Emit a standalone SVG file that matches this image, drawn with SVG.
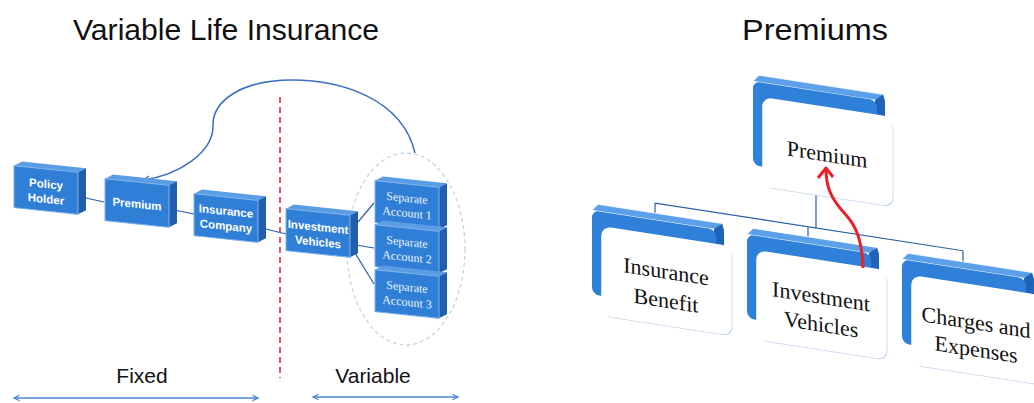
<svg xmlns="http://www.w3.org/2000/svg" xmlns:xlink="http://www.w3.org/1999/xlink" width="1034" height="403" viewBox="0 0 1034 403">
<style>
.title{font-family:"Liberation Sans",Arial,sans-serif;font-size:30px;fill:#111;text-anchor:middle}
.lbl{font-family:"Liberation Sans",Arial,sans-serif;font-size:21px;fill:#111;text-anchor:middle}
.sm{font-family:"Liberation Sans",Arial,sans-serif;font-size:11.5px;font-weight:bold;fill:#fff;text-anchor:middle}
.sa{font-family:"Liberation Serif",serif;font-size:12px;fill:#eef5fd;text-anchor:middle}
.big{font-family:"Liberation Serif","Times New Roman",serif;font-size:22px;fill:#111;text-anchor:middle}
.con{fill:none;stroke:#2a5fa8;stroke-width:1.2}
</style>
<defs>
<g id="small">
<polygon points="0,0 8,-5 72,-5 64,0" fill="#5b9de4"/>
<polygon points="64,0 72,-5 72,37 64,42" fill="#1f5fae"/>
<rect x="0" y="0" width="64" height="42" fill="#2f7fd6" stroke="#7fb2ec" stroke-width="1"/>
</g>
<g id="big">
<polygon points="-10,-15 -4,-22 120,-22 114,-15" fill="#5ba0e9" stroke="#ffffff" stroke-width="0.8"/>
<polygon points="112,-15 120,-22 122,-16 122,20 112,20" fill="#1f64ba"/>
<rect x="-10" y="-15" width="124" height="84" rx="7" fill="#2f80d8"/>
<rect x="1.5" y="1.5" width="129" height="88" rx="9" fill="#c3d5ec"/>
<rect x="0" y="0" width="129" height="88" rx="9" fill="#ffffff" stroke="#ffffff" stroke-width="1.5"/>
</g>
<marker id="ah" viewBox="0 0 10 10" refX="9" refY="5" markerWidth="8" markerHeight="8" orient="auto-start-reverse" markerUnits="userSpaceOnUse">
<path d="M1,1 L9,5 L1,9" fill="none" stroke="#3a6fc4" stroke-width="1.6"/>
</marker>
<marker id="ah2" viewBox="0 0 10 10" refX="9" refY="5" markerWidth="7" markerHeight="7" orient="auto-start-reverse" markerUnits="userSpaceOnUse">
<path d="M1,1 L9,5 L1,9" fill="none" stroke="#4a86d6" stroke-width="1.6"/>
</marker>
</defs>
<rect width="1034" height="403" fill="#ffffff"/>
<text class="title" x="226" y="40" textLength="306" lengthAdjust="spacingAndGlyphs">Variable Life Insurance</text>
<text class="title" x="815" y="40" textLength="146" lengthAdjust="spacingAndGlyphs">Premiums</text>

<line x1="280" y1="97" x2="280" y2="378" stroke="#e8425a" stroke-width="1.8" stroke-dasharray="6,4"/>
<ellipse cx="406" cy="249" rx="59" ry="96" fill="none" stroke="#c8d4e4" stroke-width="1.3" stroke-dasharray="4,3"/>

<g id="connectors">
<path class="con" d="M86,198 L104,202"/>
<path class="con" d="M174,210 L194,214"/>
<path class="con" d="M266,229 L286,234"/>
<path class="con" d="M358,222 L374,203"/>
<path class="con" d="M356,245 L374,248"/>
<path class="con" d="M355,253 L374,284"/>
<path d="M415,153 C402,98 340,80 292,80 C240,80 212,102 213,126 C213,152 180,175 143,180" fill="none" stroke="#3a6fc4" stroke-width="1.5" marker-end="url(#ah)"/>
<g transform="translate(816,0) skewY(8.8) translate(-816,0)">
<path class="con" d="M816,195 L816,228 M655,228 L963,228 M655,228 L655,238 M808,228 L808,238 M963,228 L963,239"/>
</g>
<line x1="14" y1="398" x2="258" y2="398" stroke="#4a86d6" stroke-width="1.5" marker-start="url(#ah2)" marker-end="url(#ah2)"/>
<line x1="313" y1="397" x2="458" y2="397" stroke="#4a86d6" stroke-width="1.5" marker-start="url(#ah2)" marker-end="url(#ah2)"/>
</g>

<g id="policy-holder" transform="translate(46,190) skewY(6) translate(-46,-190)">
<use xlink:href="#small" x="14" y="169"/>
<text class="sm" x="46" y="188">Policy</text>
<text class="sm" x="46" y="203">Holder</text>
</g>
<g id="premium-small" transform="translate(137,203) skewY(6) translate(-137,-203)">
<use xlink:href="#small" x="105" y="182"/>
<text class="sm" x="137" y="208">Premium</text>
</g>
<g id="insurance-company" transform="translate(226,218) skewY(6) translate(-226,-218)">
<use xlink:href="#small" x="194" y="197"/>
<text class="sm" x="226" y="215">Insurance</text>
<text class="sm" x="226" y="230">Company</text>
</g>
<g id="investment-vehicles-small" transform="translate(318,233) skewY(6) translate(-318,-233)">
<use xlink:href="#small" x="286" y="212"/>
<text class="sm" x="318" y="231">Investment</text>
<text class="sm" x="318" y="246">Vehicles</text>
</g>
<g id="separate-account-1" transform="translate(407,205) skewY(6) translate(-407,-205)">
<use xlink:href="#small" x="375" y="184"/>
<text class="sa" x="407" y="202">Separate</text>
<text class="sa" x="407" y="217">Account 1</text>
</g>
<g id="separate-account-2" transform="translate(407,249) skewY(6) translate(-407,-249)">
<use xlink:href="#small" x="375" y="228"/>
<text class="sa" x="407" y="246">Separate</text>
<text class="sa" x="407" y="261">Account 2</text>
</g>
<g id="separate-account-3" transform="translate(407,294) skewY(6) translate(-407,-294)">
<use xlink:href="#small" x="375" y="273"/>
<text class="sa" x="407" y="291">Separate</text>
<text class="sa" x="407" y="306">Account 3</text>
</g>

<g transform="translate(816,0) skewY(8.8) translate(-816,0)">
<g id="premium">
<use xlink:href="#big" x="763" y="106"/>
<text class="big" x="827" y="160">Premium</text>
</g>
<g id="insurance-benefit">
<use xlink:href="#big" x="602" y="260"/>
<text class="big" x="666" y="302">Insurance</text>
<text class="big" x="666" y="331">Benefit</text>
</g>
<g id="investment-vehicles">
<use xlink:href="#big" x="757" y="260"/>
<text class="big" x="821" y="303">Investment</text>
<text class="big" x="821" y="331">Vehicles</text>
</g>
<g id="charges-expenses">
<use xlink:href="#big" x="912" y="261"/>
<text class="big" x="976" y="305">Charges and</text>
<text class="big" x="976" y="332">Expenses</text>
</g>
</g>

<path d="M863,268 C862,240 856,226 846,215 C834,202 826,190 826,170" fill="none" stroke="#e8202a" stroke-width="3"/>
<path d="M818,178 L826,168 L833,177" fill="none" stroke="#e8202a" stroke-width="3" stroke-linejoin="round"/>

<text class="lbl" x="142" y="383">Fixed</text>
<text class="lbl" x="373" y="383">Variable</text>
</svg>
